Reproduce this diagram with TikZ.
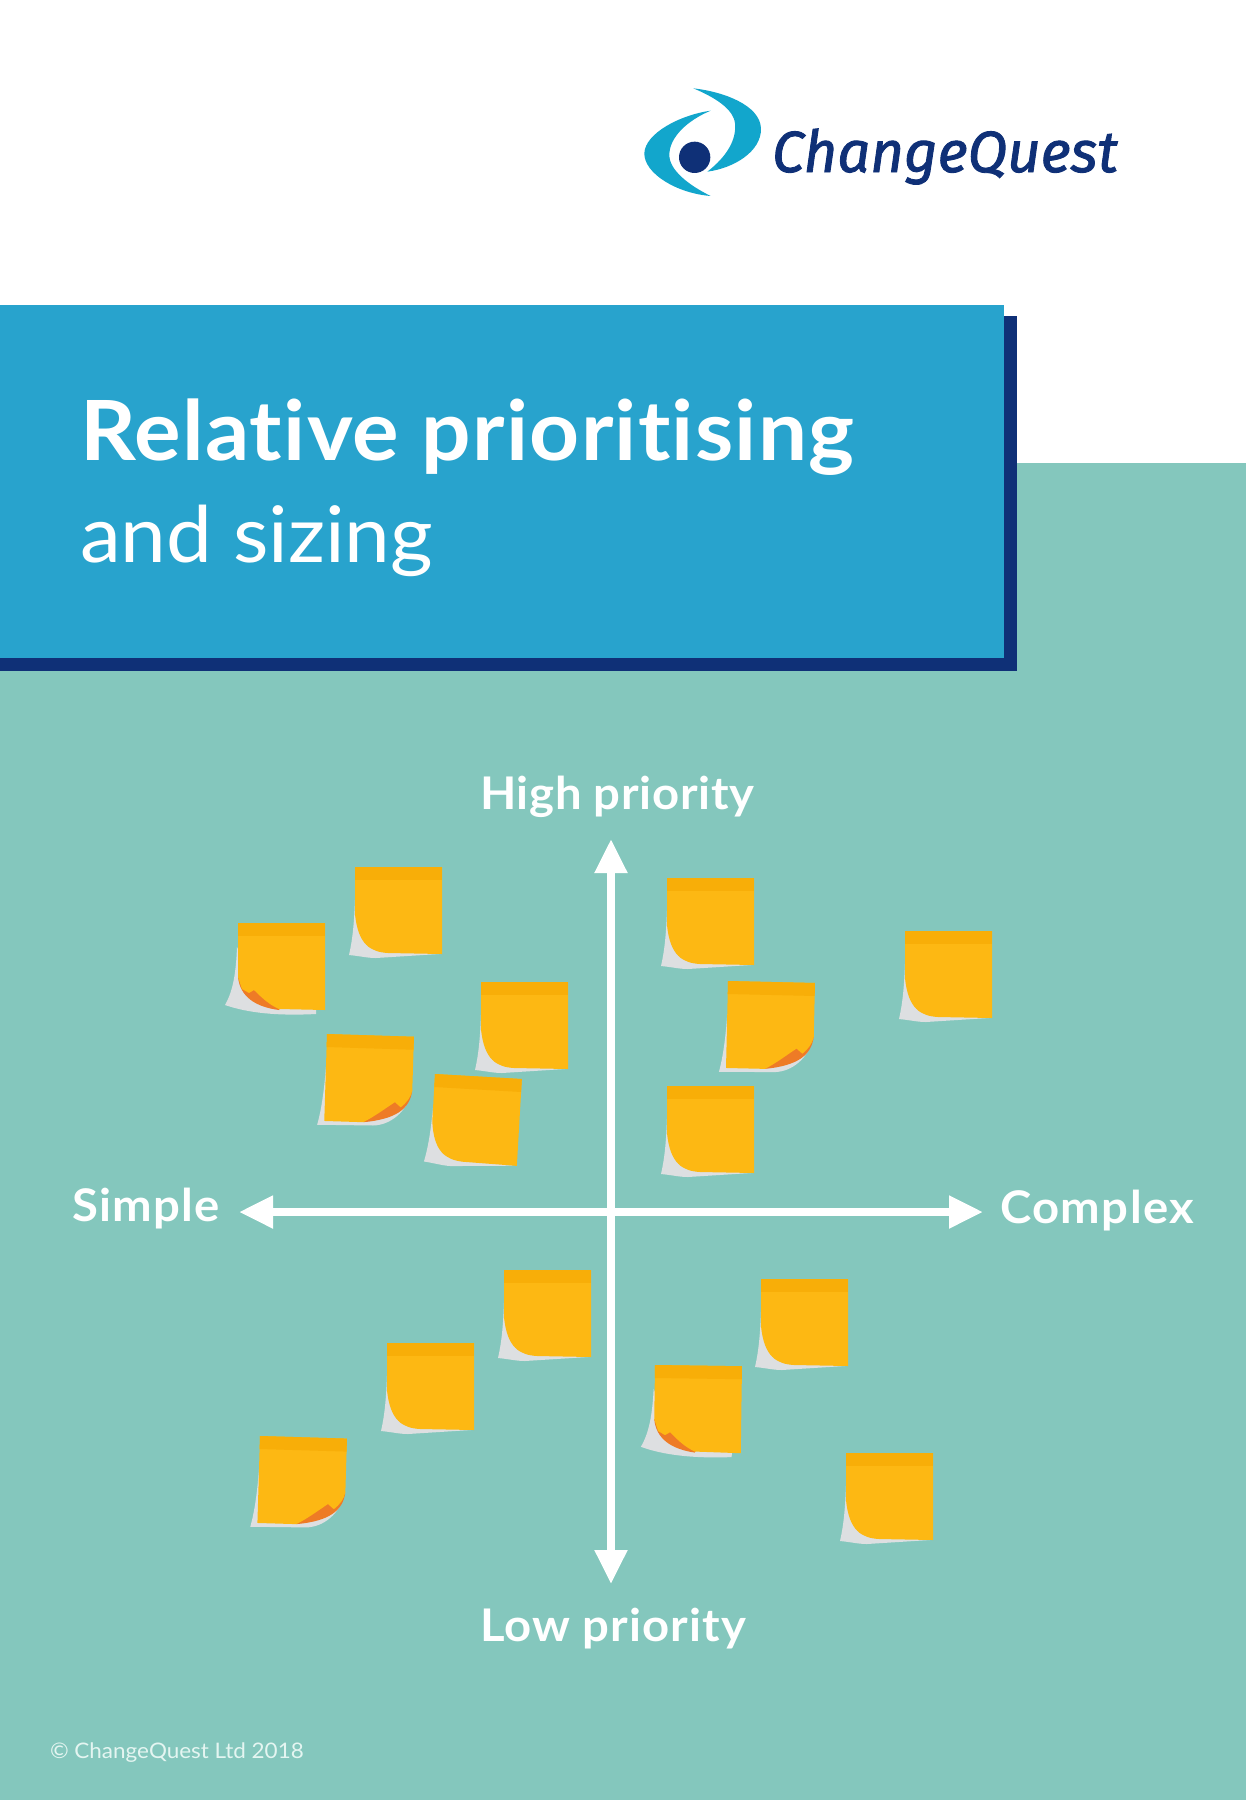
\documentclass[tikz,border=0pt]{standalone}
\usepackage{fontspec}
\setmainfont{Lato}[Ligatures=NoCommon]
\newfontfamily\logofont{Fira Sans}[FakeBold=1.5]
\usetikzlibrary{arrows.meta}
\definecolor{teal}{HTML}{84C7BD}
\definecolor{cqblue}{HTML}{28A3CD}
\definecolor{cqnavy}{HTML}{0F3077}
\definecolor{swoosh}{HTML}{12A6CC}
\definecolor{notey}{HTML}{FDB813}
\definecolor{noteb}{HTML}{F8AE08}
\definecolor{noteg}{HTML}{DDDFE1}
\definecolor{noteo}{HTML}{EE7B26}
\definecolor{copy}{HTML}{E4F5F1}
\newcommand{\spaced}[1]{\addfontfeature{FakeStretch=1.05,LetterSpace=#1}}
\tikzset{
  x=1pt,y=-1pt,
  lab/.style={anchor=base west,inner sep=0pt,outer sep=0pt,text=white},
  axis/.style={draw=white,line width=8pt,{Triangle[length=34pt,width=31pt]}-{Triangle[length=34pt,width=31pt]}},
  plainnote/.pic={
    \fill[noteg] (0,33) .. controls (-1,60) and (-3,75) .. (-6,88) .. controls (5,89) and (12,91) .. (21,91) -- (84,87) -- (40,80) -- cycle;
    \fill[notey] (0,0) -- (87,0) -- (87,87) -- (33,86) .. controls (16,85) and (3,78) .. (0,47) -- cycle;
    \fill[noteb] (0,0) -- (87,0) -- (87,13) -- (0,13) -- cycle;
  },
  leftcurl/.pic={
    \fill[noteg] (-1,24) .. controls (-2,50) and (-5,68) .. (-13,82) .. controls (10,90) and (40,93) .. (78,91) -- (78,86) -- (20,70) -- cycle;
    \fill[noteo] (0,54) .. controls (2,74) and (18,84) .. (41,87) -- (45,80) -- (16,60) -- cycle;
    \fill[notey] (0,0) -- (87,0) -- (87,87) -- (41,86) .. controls (32,82) and (25,76) .. (16,67) -- (11,70) -- (4,66) -- (0,54) -- cycle;
    \fill[noteb] (0,0) -- (87,0) -- (87,13) -- (0,13) -- cycle;
  },
  rightcurl/.pic={
    \fill[noteg] (0,33) .. controls (-1,55) and (-3,75) .. (-7,91) -- (49,90) .. controls (66,89) and (82,76) .. (87,54) -- (40,60) -- cycle;
    \fill[noteo] (87,54) .. controls (85,72) and (72,83) .. (39,87) -- (50,70) -- (75,55) -- cycle;
    \fill[notey] (0,0) -- (87,0) -- (87,54) .. controls (86,60) and (82,66) .. (76,71) -- (70,66) .. controls (60,73) and (50,81) .. (39,87) -- (0,87) -- cycle;
    \fill[noteb] (0,0) -- (87,0) -- (87,13) -- (0,13) -- cycle;
  }
}
\begin{document}
\begin{tikzpicture}
\useasboundingbox (0,0) rectangle (1246,1800);
\fill[white] (0,0) rectangle (1246,1800);
\fill[teal] (0,463) rectangle (1246,1800);
% banner
\fill[cqnavy] (0,316) rectangle (1017,671);
\fill[cqblue] (0,305) rectangle (1004,658);
\node[lab,font=\fontsize{83}{83}\selectfont\bfseries\spaced{1.5}] (title) at (80,460) {Relative prioritising};
\node[lab,font=\fontsize{78}{78}\selectfont\spaced{0}] (subtitle) at (80,562) {and sizing};
% logo
\begin{scope}[shift={(620,60)},x=0.3333pt,y=-0.3333pt]
\fill[swoosh] (220,85) .. controls (310,95) and (420,135) .. (423,205) .. controls (425,275) and (340,325) .. (262,335) .. controls (320,290) and (350,240) .. (345,190) .. controls (340,145) and (280,110) .. (220,85) -- cycle;
\fill[swoosh] (272,152) .. controls (180,165) and (75,220) .. (73,280) .. controls (72,340) and (170,400) .. (272,408) .. controls (205,375) and (148,330) .. (148,285) .. controls (148,230) and (205,180) .. (272,152) -- cycle;
\fill[cqnavy] (224,292) circle[radius=47];
\end{scope}
\node[lab,text=cqnavy,font=\fontsize{58}{58}\logofont\itshape] (logo) at (772,172) {ChangeQuest};
% axis labels
\node[lab,font=\fontsize{45}{45}\selectfont\bfseries\spaced{1.5}] (high) at (480,809) {High priority};
\node[lab,font=\fontsize{45}{45}\selectfont\bfseries\spaced{2.4}] (low) at (480,1641) {Low priority};
\node[lab,font=\fontsize{45}{45}\selectfont\bfseries\spaced{2.7}] (simple) at (72,1221) {Simple};
\node[lab,font=\fontsize{45}{45}\selectfont\bfseries\spaced{3.3}] (complex) at (1000,1223) {Complex};
\node[lab,text=copy,font=\fontsize{21.4}{22}\selectfont\spaced{0}] (copyright) at (50,1758) {© ChangeQuest Ltd 2018};
% axes
\coordinate (ytop) at (611,839);
\coordinate (ybot) at (611,1584);
\coordinate (xleft) at (239,1212);
\coordinate (xright) at (983,1212);
\draw[axis] (xleft) -- (xright);
\draw[axis] (ytop) -- (ybot);
% notes
\pic at (238,923) {leftcurl};
\pic at (355,867) {plainnote};
\pic at (481,982) {plainnote};
\pic[rotate=-1.8] at (327,1034) {rightcurl};
\pic[rotate=-3.3] at (435,1074) {plainnote};
\pic at (667,878) {plainnote};
\pic[rotate=-1.3] at (728,981) {rightcurl};
\pic at (905,931) {plainnote};
\pic at (667,1086) {plainnote};
\pic at (504,1270) {plainnote};
\pic at (761,1279) {plainnote};
\pic at (387,1343) {plainnote};
\pic[rotate=-0.8] at (655,1365) {leftcurl};
\pic[rotate=-1.7] at (260,1436) {rightcurl};
\pic at (846,1453) {plainnote};
\end{tikzpicture}
\end{document}
